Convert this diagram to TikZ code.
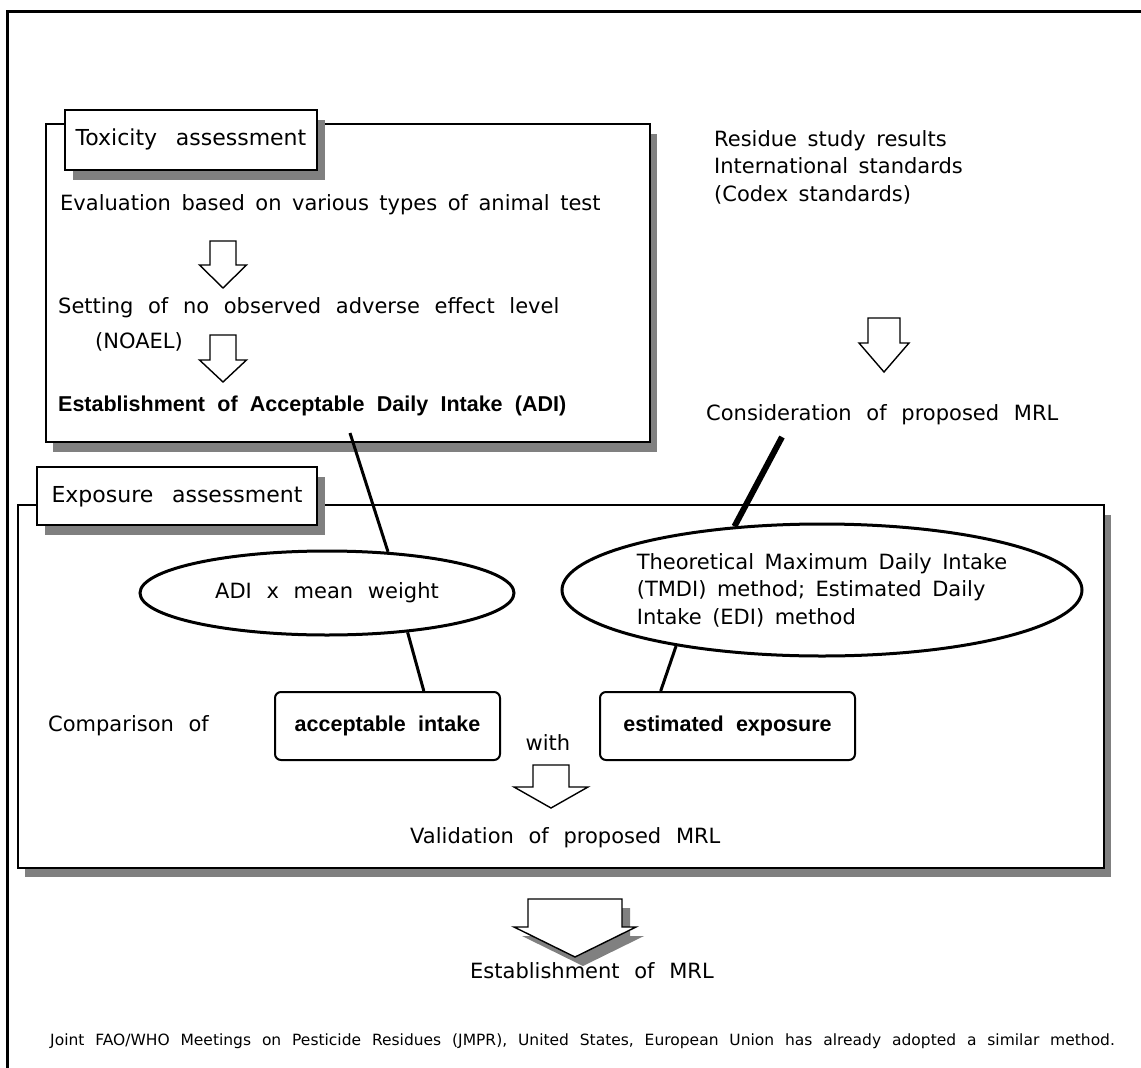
\documentclass[tikz,border=0pt]{standalone}
\usepackage{fontspec}
\setmainfont{DejaVu Sans}
\newfontfamily\arialfam{Liberation Sans}
\usetikzlibrary{shapes.geometric,calc}

% hollow block arrow: [style]{cx}{top}{shaft half}{wing half}{wing y}{tip y}
\newcommand\blockarrow[7][]{%
  \draw[#1] ({#2-#4},#3) -- ({#2+#4},#3) -- ({#2+#4},#6) -- ({#2+#5},#6)
    -- (#2,#7) -- ({#2-#5},#6) -- ({#2-#4},#6) -- cycle;}

% text faces with the wide word gaps of the chart
\newcommand\bodyface[1][0.7em]{\fontsize{21}{27.5}\selectfont\spaceskip #1\relax}
\newcommand\labelface{\fontsize{22}{27}\selectfont\spaceskip 0.85em\relax}
\newcommand\strongface{\arialfam\bfseries\fontsize{21.5}{27}\selectfont\spaceskip 0.57em\relax}
\newcommand\smallface{\fontsize{15.5}{18}\selectfont\spaceskip 0.7em\relax}

\begin{document}
\begin{tikzpicture}[x=1pt,y=-1pt,
  panel/.style={draw=black, line width=2pt, fill=white},
  shade/.style={fill=black!50, draw=none},
  body/.style={inner sep=0pt, font=\bodyface},
  tight/.style={inner sep=0pt, font={\bodyface[0.5em]}},
  tag/.style={inner sep=0pt, font=\labelface},
  strong/.style={inner sep=0pt, font=\strongface},
  small/.style={inner sep=0pt, font=\smallface},
  oval/.style={ellipse, draw=black, line width=3pt, inner sep=0pt},
  link/.style={draw=black, line width=3pt},
  thicklink/.style={draw=black, line width=6pt},
  hollow/.style={draw=black, line width=1.4pt, fill=white},
  rbox/.style={draw=black, line width=2pt, rounded corners=6pt}]

\useasboundingbox (0,0) rectangle (1141,1068);

% outer frame (top and left edges)
\draw[line width=3pt] (7,1068) -- (7,11) -- (1141,11);

% ---------- toxicity assessment panel ----------
\fill[shade] (53,134) rectangle (657,452);
\draw[panel] (46,124) rectangle (650,442);
\fill[shade] (73,120) rectangle (325,180);
\draw[panel] (65,110) rectangle (317,170);
\node[tag, anchor=base] (toxlbl) at (191,145) {Toxicity assessment};

\node[tight, anchor=base west] (evalt) at (60,210) {Evaluation based on various types of animal test};
\blockarrow[hollow]{223}{241}{13}{23.5}{265}{288}
\node[body, anchor=base west] (noael) at (58,313) {Setting of no observed adverse effect level};
\node[body, anchor=base west] (noaelab) at (95,348) {(NOAEL)};
\blockarrow[hollow]{223}{335}{13}{23.5}{360}{382}
\node[strong, anchor=base west] (adi) at (58,411) {Establishment of Acceptable Daily Intake (ADI)};

% ---------- residue data ----------
\node[tight, anchor=base west, align=left] (resid) at (714,201)
  {Residue study results\\International standards\\(Codex standards)};
\blockarrow[hollow]{884}{318}{16}{25}{343}{372}
\node[body, anchor=base west] (cons) at (706,420) {Consideration of proposed MRL};

% ---------- exposure assessment panel ----------
\fill[shade] (25,515) rectangle (1111,877);
\draw[panel] (18,505) rectangle (1104,868);
\fill[shade] (45,477) rectangle (325,535);
\draw[panel] (37,467) rectangle (317,525);
\node[tag, anchor=base] (explbl) at (177,502) {Exposure assessment};

\node[oval, minimum width=374, minimum height=84] (ell1) at (327,593) {};
\node[body] (ell1txt) at (ell1.center) {ADI x mean weight};
\node[oval, minimum width=520, minimum height=132] (ell2) at (822,590) {};
\node[tight, align=left] (ell2txt) at (ell2.center)
  {Theoretical Maximum Daily Intake\\(TMDI) method; Estimated Daily\\Intake (EDI) method};

\node[body, anchor=base west] (comp) at (48,731) {Comparison of};
\node[rbox, minimum width=225, minimum height=68, strong] (acc) at (387.5,726) {acceptable intake};
\node[rbox, minimum width=255, minimum height=68, strong] (est) at (727.5,726) {estimated exposure};
\node[body, anchor=base] (with) at (548,750) {with};
\blockarrow[hollow]{551}{765}{18}{37}{787}{808}
\node[body, anchor=base west] (valid) at (410,843) {Validation of proposed MRL};

% connectors
\coordinate (adiTail) at (350,433);
\coordinate (consTail) at (782,437);
\draw[link] (adiTail) -- (ell1.34);
\draw[thicklink] (consTail) -- (ell2.144);
\draw[link] (ell1.-26) -- ($(acc.north west)!0.66!(acc.north east)$);
\draw[link] (ell2.201) -- ($(est.north west)!0.24!(est.north east)$);

% ---------- final step ----------
\blockarrow[shade]{583}{908}{47}{61}{936}{966}
\blockarrow[hollow]{575}{899}{47}{61}{927}{957}
\node[body, anchor=base west] (mrl) at (470,978) {Establishment of MRL};

\node[small, anchor=base west] (note) at (50,1045)
  {Joint FAO/WHO Meetings on Pesticide Residues (JMPR), United States, European Union has already adopted a similar method.};
\end{tikzpicture}
\end{document}
